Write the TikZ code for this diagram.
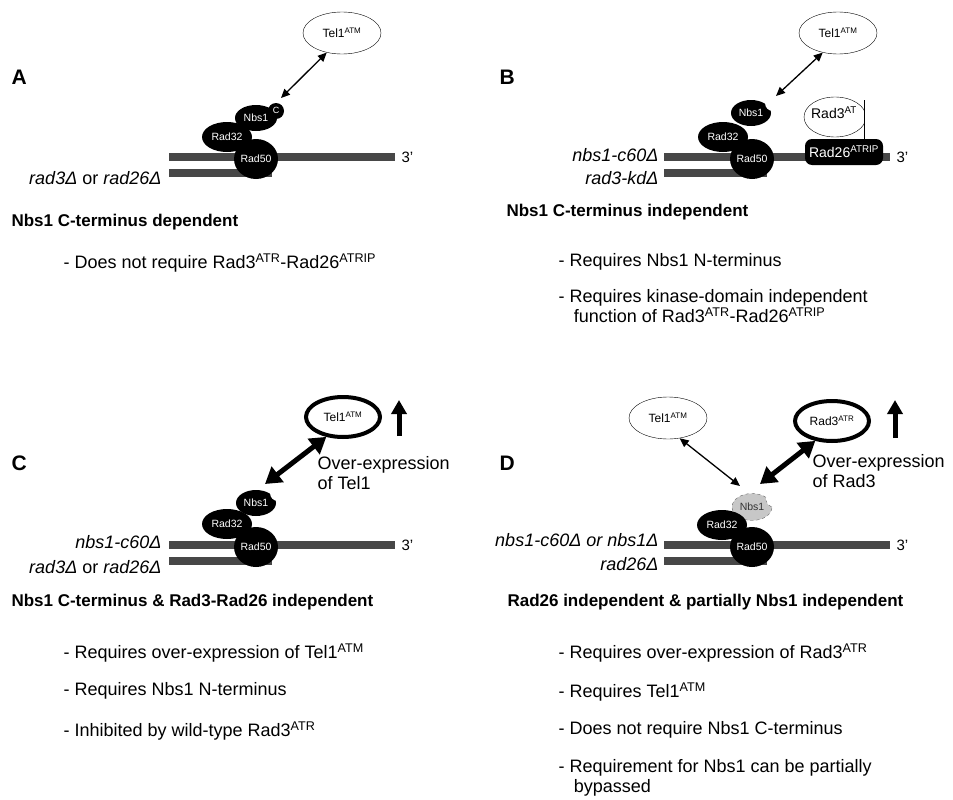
\documentclass[tikz,border=0pt]{standalone}
\usepackage{fontspec}
\setmainfont{Liberation Sans}
\usetikzlibrary{shapes.geometric,arrows.meta}

\begin{document}
\begin{tikzpicture}[x=1pt, y=-1pt,
  strand/.style={line width=8pt, draw=black!72},
  prot/.style={ellipse, fill=black, text=white, inner sep=0pt, font=\fontsize{10.5}{12}\selectfont},
  kin/.style={ellipse, draw, thin, inner sep=0pt, minimum width=78pt, minimum height=42pt, font=\fontsize{12}{14}\selectfont},
  kinbold/.style={kin, line width=4pt, minimum width=74pt, minimum height=40pt},
  bite/.style={circle, fill=white, minimum size=16pt, inner sep=0pt},
  panel/.style={anchor=west, font=\bfseries\fontsize{21}{24}\selectfont},
  head/.style={anchor=west, font=\bfseries\fontsize{17}{20}\selectfont},
  item/.style={anchor=north west, align=left, font=\fontsize{18}{20}\selectfont},
  lbl/.style={anchor=east, font=\itshape\fontsize{18}{20}\selectfont},
  thin arrow/.style={{Triangle[length=9pt,width=8pt]}-{Triangle[length=9pt,width=8pt]}, line width=1.3pt},
  thick arrow/.style={{Triangle[length=16pt,width=19pt]}-{Triangle[length=16pt,width=19pt]}, line width=5pt},
  up arrow/.style={-{Triangle[length=14pt,width=15pt]}, line width=5pt}]
  \useasboundingbox (0,0) rectangle (953,800);

  % ---------- A
  \node[panel] (pA) at (8,77) {A};
  \draw[strand] (169,157) -- (395,157);
  \draw[strand] (169,173) -- (272,173);
  \node[anchor=west, font=\fontsize{15}{17}\selectfont] (tA) at (398,157) {3'};
  \node[prot, minimum width=50pt, minimum height=30pt] (r32A) at (227,137) {Rad32};
  \node[prot, minimum width=44pt, minimum height=40pt] (r50A) at (256,159) {Rad50};
  \node[prot, minimum width=42pt, minimum height=26pt] (nbA) at (256,118) {Nbs1};
  \node[prot, circle, minimum size=16pt, font=\fontsize{9}{10}\selectfont] (cA) at (276,111) {\raisebox{2pt}{C}};
  \node[kin] (telA) at (342,33) {Tel1\textsuperscript{ATM}};
  \draw[thin arrow] (cA) ++(5,-13) coordinate (eA) (eA) -- (telA.-128);
  \node[lbl] (lA) at (165,178) {rad3Δ \textup{or} rad26Δ};
  \node[head] (hA) at (8,222) {Nbs1 C-terminus dependent};
  \node[item] (iA) at (60,250) {- Does not require Rad3\textsuperscript{ATR}-Rad26\textsuperscript{ATRIP}};

  % ---------- B
  \node[panel] (pB) at (496,77) {B};
  \draw[strand] (664,157) -- (890,157);
  \draw[strand] (664,173) -- (767,173);
  \node[anchor=west, font=\fontsize{15}{17}\selectfont] (tB) at (893,157) {3'};
  \node[prot, minimum width=50pt, minimum height=30pt] (r32B) at (723,137) {Rad32};
  \node[prot, minimum width=44pt, minimum height=40pt] (r50B) at (752,159) {Rad50};
  \node[prot, minimum width=40pt, minimum height=26pt] (nbB) at (751,113) {Nbs1};
  \node[bite] (bB) at (773,103) {};
  \begin{scope}
    \clip (790,90) rectangle (864,150);
    \draw[thin, fill=white] (835,117) ellipse (31 and 20);
  \end{scope}
  \draw[thin] (864,100) -- (864,142);
  \node[font=\fontsize{14}{16}\selectfont] (r3B) at (834,113) {Rad3\textsuperscript{AT}};
  \node[prot, rectangle, rounded corners=7pt, minimum width=78pt, minimum height=26pt, font=\fontsize{14}{16}\selectfont] (r26B) at (844,152) {Rad26\textsuperscript{ATRIP}};
  \node[kin] (telB) at (838,33) {Tel1\textsuperscript{ATM}};
  \coordinate (eB) at (776,96);
  \draw[thin arrow] (eB) -- (telB.-128);
  \node[lbl] (lB1) at (662,155) {nbs1-c60Δ};
  \node[lbl] (lB2) at (662,178) {rad3-kdΔ};
  \node[head] (hB) at (503,212) {Nbs1 C-terminus independent};
  \node[item] (iB1) at (555,250) {- Requires Nbs1 N-terminus};
  \node[item] (iB2) at (555,286) {- Requires kinase-domain independent\\\hspace{0.85em}function of Rad3\textsuperscript{ATR}-Rad26\textsuperscript{ATRIP}};

  % ---------- C
  \node[panel] (pC) at (8,463) {C};
  \draw[strand] (169,545) -- (395,545);
  \draw[strand] (169,561) -- (272,561);
  \node[anchor=west, font=\fontsize{15}{17}\selectfont] (tC) at (398,545) {3'};
  \node[prot, minimum width=50pt, minimum height=30pt] (r32C) at (227,524) {Rad32};
  \node[prot, minimum width=44pt, minimum height=40pt] (r50C) at (256,547) {Rad50};
  \node[prot, minimum width=40pt, minimum height=26pt] (nbC) at (256,503) {Nbs1};
  \node[bite] (bC) at (278,493) {};
  \node[kinbold] (telC) at (343,417) {Tel1\textsuperscript{ATM}};
  \coordinate (eC) at (265,484);
  \draw[thick arrow] (eC) -- (telC.-130);
  \coordinate (uC) at (399,436);
  \draw[up arrow] (uC) -- ++(0,-36);
  \node[anchor=north west, align=left, font=\fontsize{18}{20}\selectfont] (oC) at (314,453) {Over-expression\\of Tel1};
  \node[lbl] (lC1) at (165,542) {nbs1-c60Δ};
  \node[lbl] (lC2) at (165,567) {rad3Δ \textup{or} rad26Δ};
  \node[head] (hC) at (8,602) {Nbs1 C-terminus \& Rad3-Rad26 independent};
  \node[item] (iC1) at (60,640) {- Requires over-expression of Tel1\textsuperscript{ATM}};
  \node[item] (iC2) at (60,679) {- Requires Nbs1 N-terminus};
  \node[item] (iC3) at (60,718) {- Inhibited by wild-type Rad3\textsuperscript{ATR}};

  % ---------- D
  \node[panel] (pD) at (496,463) {D};
  \draw[strand] (664,545) -- (890,545);
  \draw[strand] (664,561) -- (767,561);
  \node[anchor=west, font=\fontsize{15}{17}\selectfont] (tD) at (893,545) {3'};
  \node[prot, minimum width=40pt, minimum height=27pt, fill=black!22, draw=black!60, dashed, text=black!80] (nbD) at (752,507) {Nbs1};
  \node[bite] (bD) at (774,499) {};
  \draw[black!60, dashed] (bD.-110) arc[start angle=-110, end angle=-170, radius=8pt];
  \node[prot, minimum width=50pt, minimum height=30pt] (r32D) at (722,525) {Rad32};
  \node[prot, minimum width=44pt, minimum height=40pt] (r50D) at (752,547) {Rad50};
  \node[kin] (telD) at (668,418) {Tel1\textsuperscript{ATM}};
  \node[kinbold] (r3D) at (832,421) {Rad3\textsuperscript{ATR}};
  \coordinate (eD1) at (740,486);
  \coordinate (eD2) at (760,484);
  \draw[thin arrow] (eD1) -- (telD.-60);
  \draw[thick arrow] (eD2) -- (r3D.-130);
  \coordinate (uD) at (895,438);
  \draw[up arrow] (uD) -- ++(0,-38);
  \node[anchor=north west, align=left, font=\fontsize{18}{20}\selectfont] (oD) at (809,451) {Over-expression\\of Rad3};
  \node[lbl] (lD1) at (662,540) {nbs1-c60Δ or nbs1Δ};
  \node[lbl] (lD2) at (662,564) {rad26Δ};
  \node[head] (hD) at (504,602) {Rad26 independent \& partially Nbs1 independent};
  \node[item] (iD1) at (555,640) {- Requires over-expression of Rad3\textsuperscript{ATR}};
  \node[item] (iD2) at (555,679) {- Requires Tel1\textsuperscript{ATM}};
  \node[item] (iD3) at (555,718) {- Does not require Nbs1 C-terminus};
  \node[item] (iD4) at (555,756) {- Requirement for Nbs1 can be partially\\\hspace{0.85em}bypassed};
\end{tikzpicture}
\end{document}
